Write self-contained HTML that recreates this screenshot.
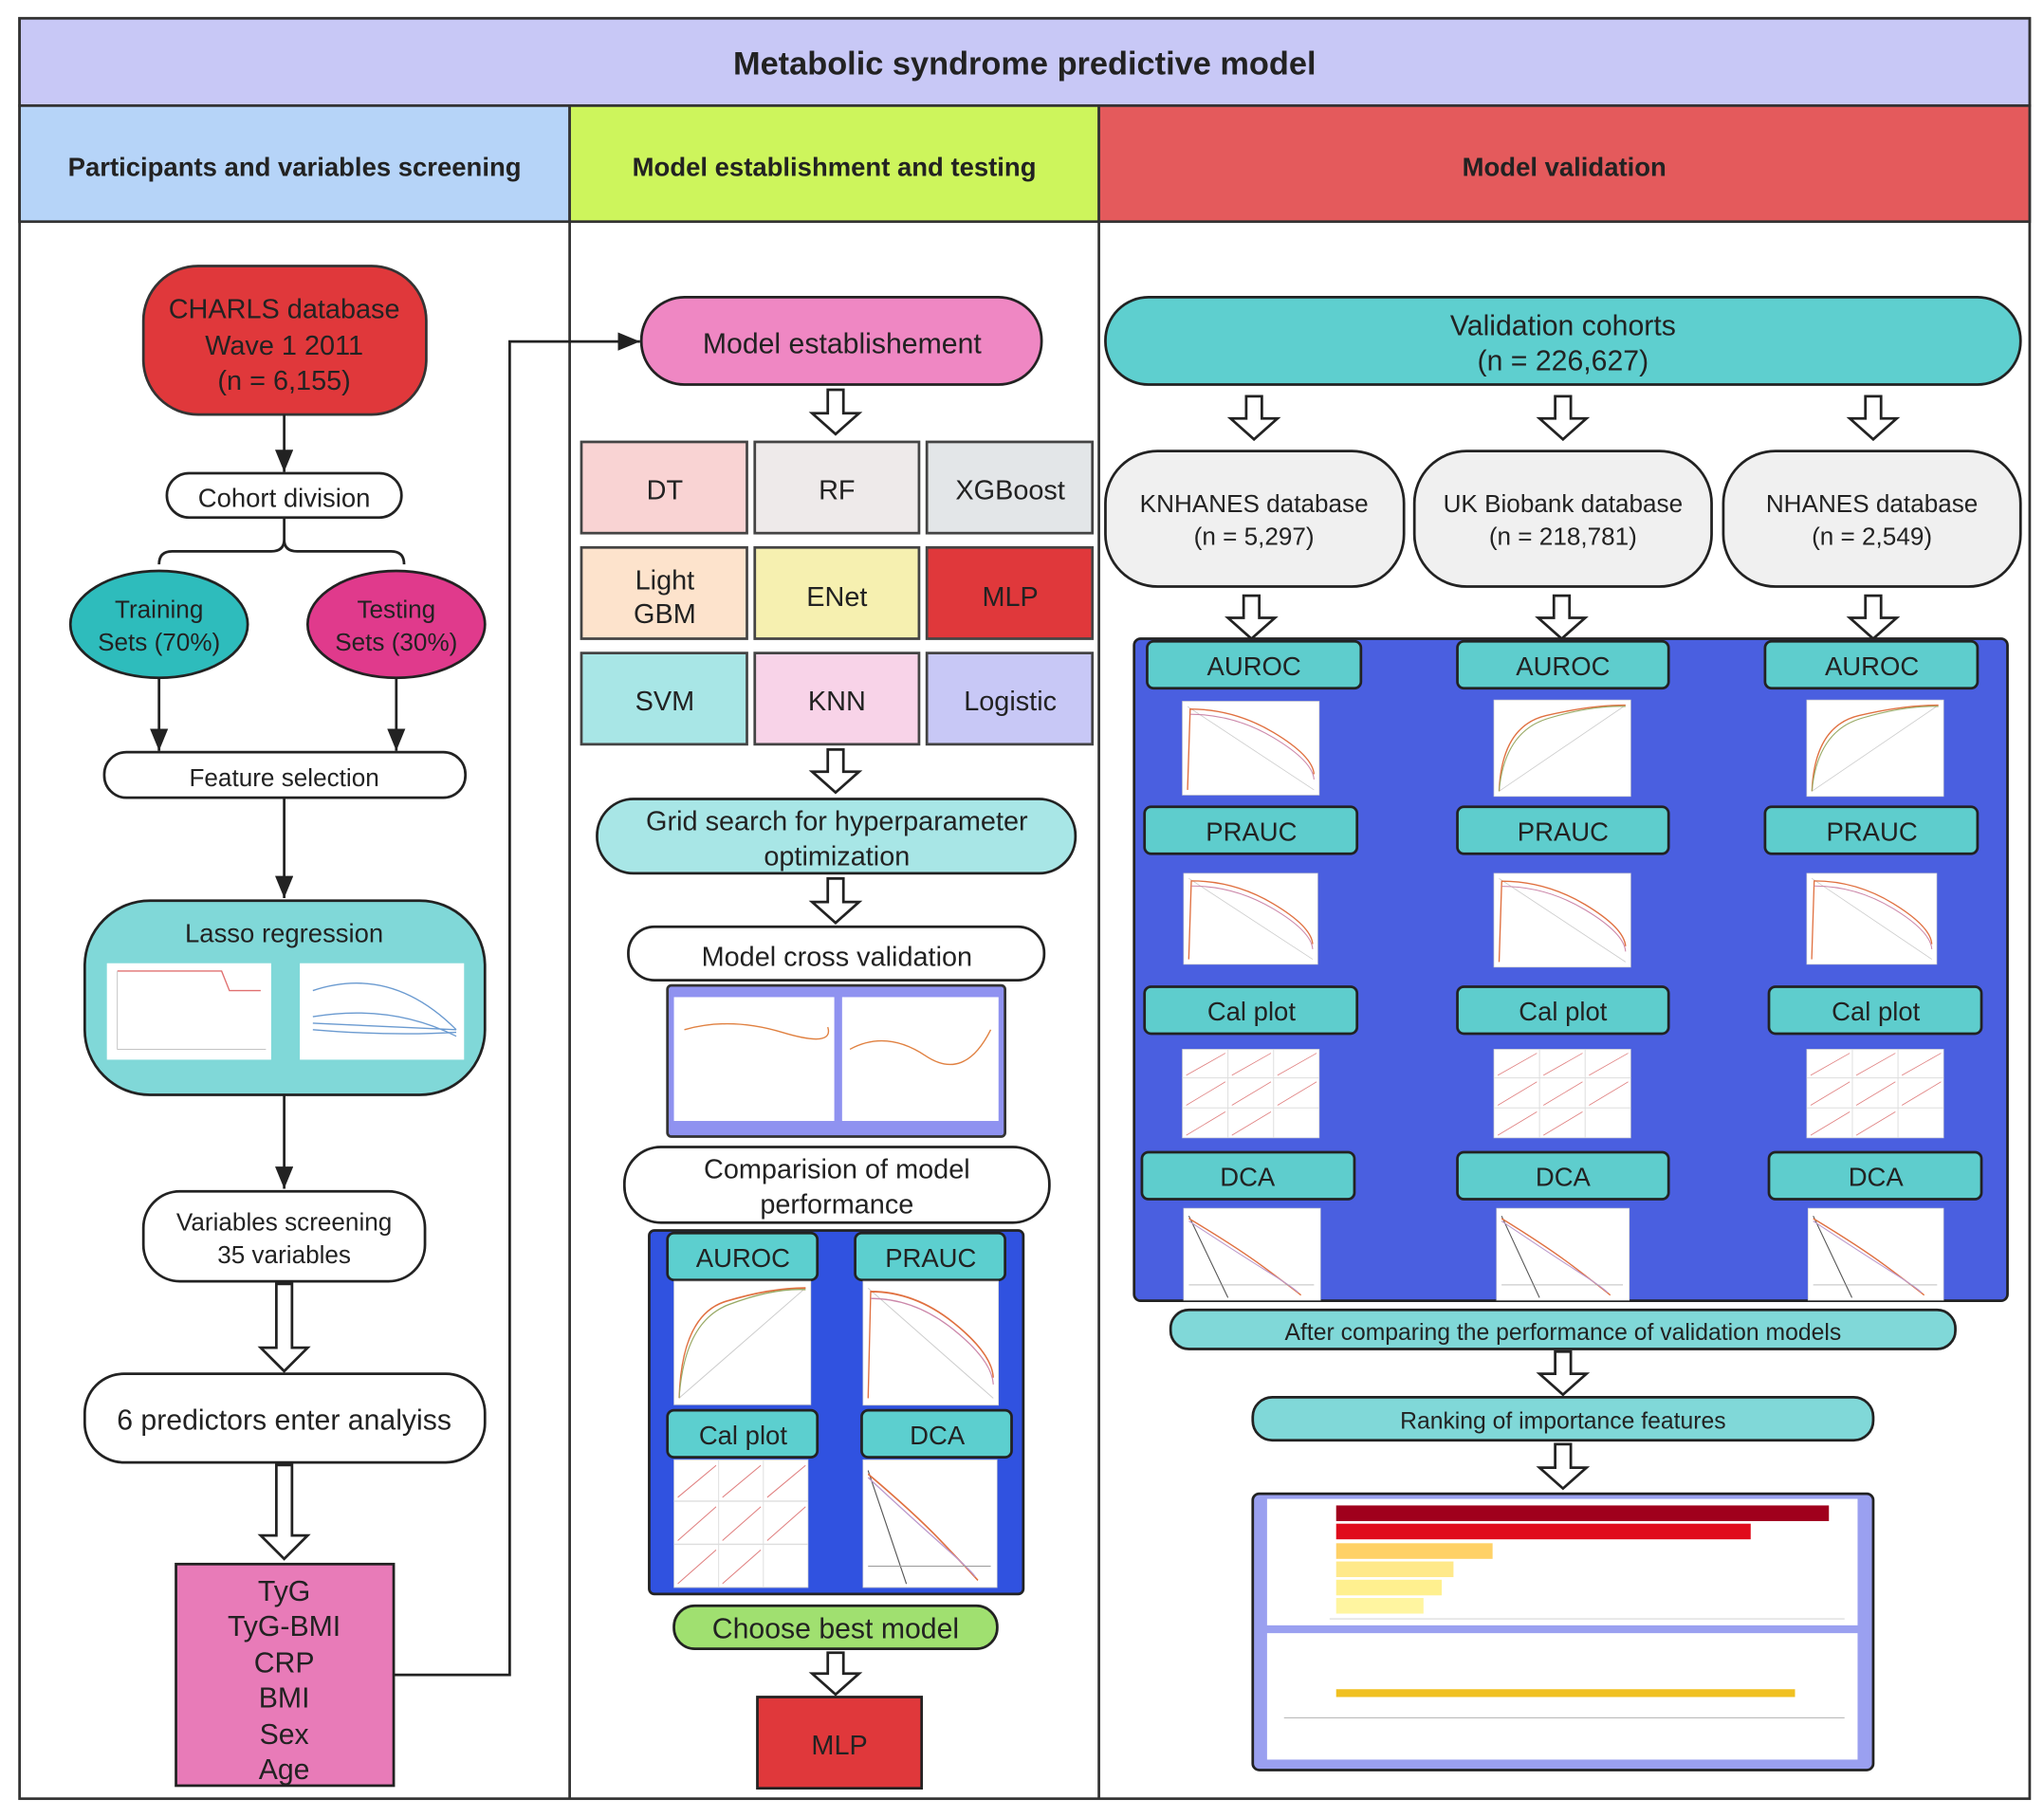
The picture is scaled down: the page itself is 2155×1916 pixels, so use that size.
<!DOCTYPE html>
<html><head><meta charset="utf-8"><style>
html,body{margin:0;padding:0;background:#fff;}
svg{display:block;}
text{font-family:"Liberation Sans",sans-serif;fill:#222;}
</style></head><body>
<svg width="2155" height="1916" viewBox="0 0 1568 1394" xmlns="http://www.w3.org/2000/svg">
<defs>
<marker id="ah" markerWidth="10" markerHeight="10" refX="9" refY="5" orient="auto" markerUnits="userSpaceOnUse"><path d="M0,0 L10,5 L0,10 z" fill="#222"/></marker>
<marker id="av" markerWidth="18" markerHeight="14" refX="17" refY="7" orient="auto" markerUnits="userSpaceOnUse"><path d="M0,0 L17,7 L0,14 z" fill="#222"/></marker>
<g id="roc"><rect x="0" y="0" width="105" height="74" fill="#fff" stroke="#ccc" stroke-width="0.5"/><line x1="4" y1="70" x2="101" y2="4" stroke="#ccc" stroke-width="0.6"/><path d="M4,70 Q6,20 40,12 T101,4" fill="none" stroke="#e07040" stroke-width="1"/><path d="M4,70 Q8,24 42,14 T101,5" fill="none" stroke="#9a6" stroke-width="0.8"/></g>
<g id="pr"><rect x="0" y="0" width="105" height="72" fill="#fff" stroke="#ccc" stroke-width="0.5"/><line x1="4" y1="4" x2="101" y2="68" stroke="#ccc" stroke-width="0.6"/><path d="M4,68 L6,6 Q40,6 70,24 T101,56" fill="none" stroke="#e07040" stroke-width="1"/><path d="M6,10 Q40,10 70,28 T101,60" fill="none" stroke="#c8a" stroke-width="0.8"/></g>
<g id="cal"><rect x="0" y="0" width="105" height="68" fill="#fff" stroke="#ccc" stroke-width="0.5"/><path d="M35,0V68M70,0V68M0,22H105M0,45H105" stroke="#ddd" stroke-width="0.7"/><path d="M3,20 L33,3 M38,20 L68,3 M73,20 L103,3 M3,43 L33,25 M38,43 L68,25 M73,43 L103,25 M3,66 L33,48 M38,66 L68,48" stroke="#e08080" stroke-width="0.6"/></g>
<g id="dca"><rect x="0" y="0" width="105" height="72" fill="#fff" stroke="#ccc" stroke-width="0.5"/><path d="M4,6 L34,70" stroke="#555" stroke-width="0.8" fill="none"/><path d="M4,8 Q40,30 60,45 T90,68" stroke="#e07040" stroke-width="1" fill="none"/><path d="M4,10 Q40,34 62,48 T88,66" stroke="#b9c" stroke-width="0.8" fill="none"/><line x1="4" y1="60" x2="100" y2="60" stroke="#999" stroke-width="0.5"/></g>
</defs>

<rect x="15" y="14" width="1542" height="1366" fill="#fff" stroke="#333" stroke-width="2"/>
<rect x="15" y="14" width="1542" height="67" fill="#c8c8f6" stroke="#333" stroke-width="2"/>
<text x="786" y="57" font-size="25" font-weight="bold" text-anchor="middle" fill="#111">Metabolic syndrome predictive model</text>
<rect x="15" y="81" width="422" height="89" fill="#b6d4f8" stroke="#333" stroke-width="2"/>
<rect x="437" y="81" width="406" height="89" fill="#cdf55c" stroke="#333" stroke-width="2"/>
<rect x="843" y="81" width="714" height="89" fill="#e45a5c" stroke="#333" stroke-width="2"/>
<text x="226" y="135" font-size="20" font-weight="bold" text-anchor="middle">Participants and variables screening</text>
<text x="640" y="135" font-size="20" font-weight="bold" text-anchor="middle">Model establishment and testing</text>
<text x="1200" y="135" font-size="20" font-weight="bold" text-anchor="middle">Model validation</text>
<line x1="437" y1="170" x2="437" y2="1380" stroke="#333" stroke-width="2"/>
<line x1="843" y1="170" x2="843" y2="1380" stroke="#333" stroke-width="2"/>

<!-- Column 1 -->
<rect x="110" y="204" width="217" height="114" rx="42" fill="#e0383b" stroke="#333" stroke-width="2"/>
<text x="218" y="244" font-size="21" text-anchor="middle">CHARLS database</text>
<text x="218" y="272" font-size="21" text-anchor="middle">Wave 1 2011</text>
<text x="218" y="299" font-size="21" text-anchor="middle">(n = 6,155)</text>
<line x1="218" y1="318" x2="218" y2="362" stroke="#222" stroke-width="2" marker-end="url(#av)"/>
<rect x="128" y="363" width="180" height="34" rx="17" fill="#fff" stroke="#222" stroke-width="2"/>
<text x="218" y="389" font-size="20" text-anchor="middle">Cohort division</text>
<path d="M218,397 V414 Q218,423 208,423 H132 Q122,423 122,433 M218,414 Q218,423 228,423 H300 Q310,423 310,433" fill="none" stroke="#222" stroke-width="2"/>
<ellipse cx="122" cy="479" rx="68" ry="41" fill="#2ebcbc" stroke="#222" stroke-width="2"/>
<text x="122" y="474" font-size="19" text-anchor="middle">Training</text>
<text x="122" y="499" font-size="19" text-anchor="middle">Sets (70%)</text>
<ellipse cx="304" cy="479" rx="68" ry="41" fill="#e03a8c" stroke="#222" stroke-width="2"/>
<text x="304" y="474" font-size="19" text-anchor="middle">Testing</text>
<text x="304" y="499" font-size="19" text-anchor="middle">Sets (30%)</text>
<line x1="122" y1="520" x2="122" y2="576" stroke="#222" stroke-width="2" marker-end="url(#av)"/>
<line x1="304" y1="520" x2="304" y2="576" stroke="#222" stroke-width="2" marker-end="url(#av)"/>
<rect x="80" y="577" width="277" height="35" rx="17" fill="#fff" stroke="#222" stroke-width="2"/>
<text x="218" y="603" font-size="19" text-anchor="middle">Feature selection</text>
<line x1="218" y1="612" x2="218" y2="689" stroke="#222" stroke-width="2" marker-end="url(#av)"/>
<rect x="65" y="691" width="307" height="149" rx="50" fill="#80d8d8" stroke="#222" stroke-width="2"/>
<text x="218" y="723" font-size="20" text-anchor="middle">Lasso regression</text>
<rect x="82" y="739" width="126" height="74" fill="#fff"/>
<path d="M90,745 H170 L176,760 H200" stroke="#e07070" fill="none" stroke-width="1"/>
<path d="M90,745 V805 H204" stroke="#bbb" fill="none" stroke-width="0.6"/>
<rect x="230" y="739" width="126" height="74" fill="#fff"/>
<path d="M240,760 Q300,740 350,790 M240,780 Q300,770 350,795 M240,785 L350,790 M240,790 Q300,795 350,792" stroke="#6a9ad0" fill="none" stroke-width="1"/>
<line x1="218" y1="840" x2="218" y2="912" stroke="#222" stroke-width="2" marker-end="url(#av)"/>
<rect x="110" y="914" width="216" height="69" rx="28" fill="#fff" stroke="#222" stroke-width="2"/>
<text x="218" y="944" font-size="19" text-anchor="middle">Variables screening</text>
<text x="218" y="969" font-size="19" text-anchor="middle">35 variables</text>
<path d="M212,985 H224 V1034 H236 L218,1052 L200,1034 H212 Z" fill="#fff" stroke="#222" stroke-width="2"/>
<rect x="65" y="1054" width="307" height="68" rx="30" fill="#fff" stroke="#222" stroke-width="2"/>
<text x="218" y="1097" font-size="22" text-anchor="middle">6 predictors enter analyiss</text>
<path d="M212,1124 H224 V1178 H236 L218,1196 L200,1178 H212 Z" fill="#fff" stroke="#222" stroke-width="2"/>
<rect x="135" y="1200" width="167" height="170" fill="#e87bb8" stroke="#222" stroke-width="2"/>
<text x="218" y="1228" font-size="22" text-anchor="middle">TyG</text>
<text x="218" y="1255" font-size="22" text-anchor="middle">TyG-BMI</text>
<text x="218" y="1283" font-size="22" text-anchor="middle">CRP</text>
<text x="218" y="1310" font-size="22" text-anchor="middle">BMI</text>
<text x="218" y="1338" font-size="22" text-anchor="middle">Sex</text>
<text x="218" y="1365" font-size="22" text-anchor="middle">Age</text>
<path d="M302,1285 H391 V262 H491" fill="none" stroke="#222" stroke-width="2" marker-end="url(#av)"/>

<!-- Column 2 -->
<rect x="492" y="228" width="307" height="67" rx="33" fill="#ef87c3" stroke="#222" stroke-width="2"/>
<text x="646" y="271" font-size="22" text-anchor="middle">Model establishement</text>
<path d="M635,299 H647 V317 H659 L641,333 L623,317 H635 Z" fill="#fff" stroke="#222" stroke-width="2"/>
<g stroke="#444" stroke-width="2">
<rect x="446" y="339" width="127" height="70" fill="#f9d3d3"/>
<rect x="579" y="339" width="126" height="70" fill="#eeeaea"/>
<rect x="711" y="339" width="127" height="70" fill="#e3e6e8"/>
<rect x="446" y="420" width="127" height="70" fill="#fde3cc"/>
<rect x="579" y="420" width="126" height="70" fill="#f6f0b0"/>
<rect x="711" y="420" width="127" height="70" fill="#e0383b"/>
<rect x="446" y="501" width="127" height="70" fill="#a8e6e6"/>
<rect x="579" y="501" width="126" height="70" fill="#f8d3e8"/>
<rect x="711" y="501" width="127" height="70" fill="#c8c8f6"/>
</g>
<g font-size="21" text-anchor="middle">
<text x="510" y="383">DT</text><text x="642" y="383">RF</text><text x="775" y="383">XGBoost</text>
<text x="510" y="452">Light</text><text x="510" y="478">GBM</text><text x="642" y="465">ENet</text><text x="775" y="465">MLP</text>
<text x="510" y="545">SVM</text><text x="642" y="545">KNN</text><text x="775" y="545">Logistic</text>
</g>
<path d="M635,575 H647 V592 H659 L641,608 L623,592 H635 Z" fill="#fff" stroke="#222" stroke-width="2"/>
<rect x="458" y="613" width="367" height="57" rx="28" fill="#a8e6e6" stroke="#222" stroke-width="2"/>
<text x="642" y="637" font-size="21" text-anchor="middle">Grid search for hyperparameter</text>
<text x="642" y="664" font-size="21" text-anchor="middle">optimization</text>
<path d="M635,674 H647 V692 H659 L641,708 L623,692 H635 Z" fill="#fff" stroke="#222" stroke-width="2"/>
<rect x="482" y="711" width="319" height="41" rx="20" fill="#fff" stroke="#222" stroke-width="2"/>
<text x="642" y="741" font-size="21" text-anchor="middle">Model cross validation</text>
<rect x="512" y="756" width="259" height="116" rx="3" fill="#8f92f0" stroke="#333" stroke-width="2"/>
<rect x="517" y="765" width="123" height="95" fill="#fff"/>
<rect x="646" y="765" width="120" height="95" fill="#fff"/>
<path d="M525,790 Q560,780 600,792 T635,788" stroke="#e08040" fill="none"/>
<path d="M652,805 Q680,790 710,810 T760,790" stroke="#e08040" fill="none"/>
<rect x="479" y="880" width="326" height="58" rx="28" fill="#fff" stroke="#222" stroke-width="2"/>
<text x="642" y="904" font-size="21" text-anchor="middle">Comparision of model</text>
<text x="642" y="931" font-size="21" text-anchor="middle">performance</text>
<rect x="498" y="944" width="287" height="279" rx="4" fill="#3052e0" stroke="#222" stroke-width="2"/>
<g stroke="#222" stroke-width="2" fill="#5ccfcf">
<rect x="512" y="946" width="115" height="36" rx="5"/>
<rect x="656" y="946" width="115" height="36" rx="5"/>
<rect x="512" y="1082" width="115" height="36" rx="5"/>
<rect x="661" y="1082" width="115" height="36" rx="5"/>
</g>
<g font-size="20" text-anchor="middle">
<text x="570" y="972">AUROC</text><text x="714" y="972">PRAUC</text>
<text x="570" y="1108">Cal plot</text><text x="719" y="1108">DCA</text>
</g>
<use href="#roc" transform="translate(517,983) scale(1,1.28)"/>
<use href="#pr" transform="translate(662,983) scale(0.99,1.32)"/>
<use href="#cal" transform="translate(517,1120) scale(0.98,1.44)"/>
<use href="#dca" transform="translate(662,1120) scale(0.98,1.36)"/>
<rect x="517" y="1232" width="248" height="33" rx="16" fill="#a0e070" stroke="#222" stroke-width="2"/>
<text x="641" y="1257" font-size="22" text-anchor="middle">Choose best model</text>
<path d="M635,1268 H647 V1284 H659 L641,1300 L623,1284 H635 Z" fill="#fff" stroke="#222" stroke-width="2"/>
<rect x="581" y="1302" width="126" height="70" fill="#e0383b" stroke="#222" stroke-width="2"/>
<text x="644" y="1346" font-size="21" text-anchor="middle">MLP</text>

<!-- Column 3 -->
<rect x="848" y="228" width="702" height="67" rx="33" fill="#5ecfcf" stroke="#222" stroke-width="2"/>
<text x="1199" y="257" font-size="22" text-anchor="middle">Validation cohorts</text>
<text x="1199" y="284" font-size="22" text-anchor="middle">(n = 226,627)</text>
<path d="M956,304 H968 V321 H980 L962,337 L944,321 H956 Z" fill="#fff" stroke="#222" stroke-width="2"/>
<path d="M1193,304 H1205 V321 H1217 L1199,337 L1181,321 H1193 Z" fill="#fff" stroke="#222" stroke-width="2"/>
<path d="M1431,304 H1443 V321 H1455 L1437,337 L1419,321 H1431 Z" fill="#fff" stroke="#222" stroke-width="2"/>
<g fill="#f0f0f0" stroke="#222" stroke-width="2">
<rect x="848" y="346" width="229" height="104" rx="40"/>
<rect x="1085" y="346" width="228" height="104" rx="40"/>
<rect x="1322" y="346" width="228" height="104" rx="40"/>
</g>
<g font-size="19" text-anchor="middle">
<text x="962" y="393">KNHANES database</text><text x="962" y="418">(n = 5,297)</text>
<text x="1199" y="393">UK Biobank database</text><text x="1199" y="418">(n = 218,781)</text>
<text x="1436" y="393">NHANES database</text><text x="1436" y="418">(n = 2,549)</text>
</g>
<path d="M954,457 H966 V474 H978 L960,490 L942,474 H954 Z" fill="#fff" stroke="#222" stroke-width="2"/>
<path d="M1192,457 H1204 V474 H1216 L1198,490 L1180,474 H1192 Z" fill="#fff" stroke="#222" stroke-width="2"/>
<path d="M1431,457 H1443 V474 H1455 L1437,490 L1419,474 H1431 Z" fill="#fff" stroke="#222" stroke-width="2"/>
<rect x="870" y="490" width="670" height="508" rx="5" fill="#4a5fe0" stroke="#222" stroke-width="2"/>
<g fill="#5ecdcd" stroke="#222" stroke-width="2">
<rect x="880" y="492" width="164" height="36" rx="5"/><rect x="1118" y="492" width="162" height="36" rx="5"/><rect x="1354" y="492" width="163" height="36" rx="5"/>
<rect x="878" y="619" width="163" height="36" rx="5"/><rect x="1118" y="619" width="162" height="36" rx="5"/><rect x="1354" y="619" width="163" height="36" rx="5"/>
<rect x="878" y="757" width="163" height="36" rx="5"/><rect x="1118" y="757" width="162" height="36" rx="5"/><rect x="1357" y="757" width="163" height="36" rx="5"/>
<rect x="876" y="884" width="163" height="36" rx="5"/><rect x="1118" y="884" width="162" height="36" rx="5"/><rect x="1357" y="884" width="163" height="36" rx="5"/>
</g>
<g font-size="20" text-anchor="middle">
<text x="962" y="518">AUROC</text><text x="1199" y="518">AUROC</text><text x="1436" y="518">AUROC</text>
<text x="960" y="645">PRAUC</text><text x="1199" y="645">PRAUC</text><text x="1436" y="645">PRAUC</text>
<text x="960" y="783">Cal plot</text><text x="1199" y="783">Cal plot</text><text x="1439" y="783">Cal plot</text>
<text x="957" y="910">DCA</text><text x="1199" y="910">DCA</text><text x="1439" y="910">DCA</text>
</g>
<use href="#pr" transform="translate(907,538)"/><use href="#roc" transform="translate(1146,537)"/><use href="#roc" transform="translate(1386,537)"/>
<use href="#pr" transform="translate(908,670) scale(0.98,0.97)"/><use href="#pr" transform="translate(1146,670)"/><use href="#pr" transform="translate(1386,670) scale(0.95,0.97)"/>
<use href="#cal" transform="translate(907,805)"/><use href="#cal" transform="translate(1146,805)"/><use href="#cal" transform="translate(1386,805)"/>
<use href="#dca" transform="translate(908,927) scale(1,0.98)"/><use href="#dca" transform="translate(1148,927) scale(0.97,0.98)"/><use href="#dca" transform="translate(1387,927) scale(0.99,0.98)"/>
<rect x="898" y="1005" width="602" height="30" rx="14" fill="#80d8d8" stroke="#222" stroke-width="2"/>
<text x="1199" y="1028" font-size="18" text-anchor="middle">After comparing the performance of validation models</text>
<path d="M1193,1037 H1205 V1054 H1217 L1199,1070 L1181,1054 H1193 Z" fill="#fff" stroke="#222" stroke-width="2"/>
<rect x="961" y="1072" width="476" height="33" rx="15" fill="#80d8d8" stroke="#222" stroke-width="2"/>
<text x="1199" y="1096" font-size="18" text-anchor="middle">Ranking of importance features</text>
<path d="M1193,1108 H1205 V1126 H1217 L1199,1142 L1181,1126 H1193 Z" fill="#fff" stroke="#222" stroke-width="2"/>
<rect x="961" y="1146" width="476" height="212" rx="5" fill="#9aa0f0" stroke="#222" stroke-width="2"/>
<rect x="972" y="1150" width="453" height="97" fill="#fff"/>
<rect x="972" y="1253" width="453" height="97" fill="#fff"/>
<rect x="1025" y="1155" width="378" height="12" fill="#a0001c"/>
<rect x="1025" y="1169" width="318" height="12" fill="#e00c1c"/>
<rect x="1025" y="1184" width="120" height="12" fill="#ffd166"/>
<rect x="1025" y="1198" width="90" height="12" fill="#ffe98a"/>
<rect x="1025" y="1212" width="81" height="12" fill="#fff08f"/>
<rect x="1025" y="1226" width="67" height="12" fill="#fff5a0"/>
<line x1="1020" y1="1242" x2="1415" y2="1242" stroke="#ccc" stroke-width="0.6"/>
<rect x="1025" y="1296" width="352" height="6" fill="#f0c020"/>
<line x1="985" y1="1318" x2="1415" y2="1318" stroke="#bbb" stroke-width="0.8"/>
</svg>
</body></html>
